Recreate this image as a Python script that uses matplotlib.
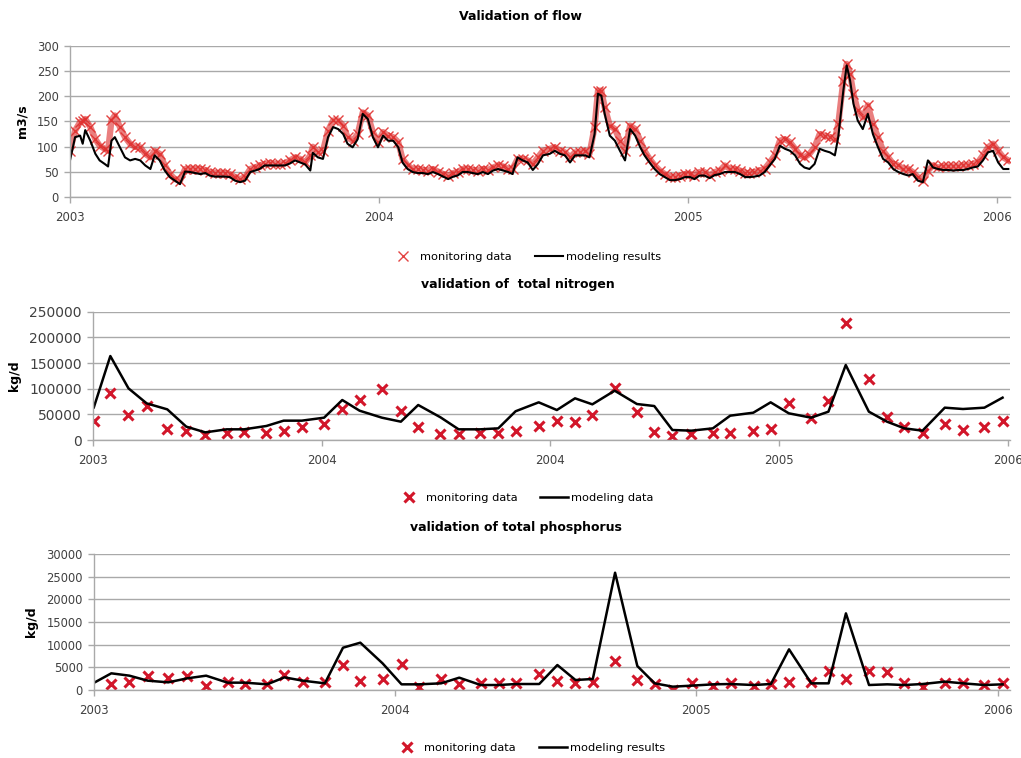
import matplotlib.pyplot as plt
import numpy as np

plt.rcParams['font.family'] = ['DejaVu Sans']

# flow: day from 2003-01-01, monitoring (m3/s), modeling (m3/s)
flow_day = [0, 6, 12, 15, 18, 24, 30, 35, 41, 45, 49, 53, 59, 65, 71, 77, 83, 89, 95, 100,
            106, 112, 118, 124, 130, 136, 142, 148, 154, 160, 165, 171, 177, 183, 189, 195, 201, 207, 213, 219,
            224, 230, 236, 242, 248, 254, 260, 266, 272, 278, 284, 287, 293, 299, 305, 311, 317, 323, 328, 334,
            340, 346, 352, 358, 364, 370, 376, 382, 388, 393, 399, 405, 411, 417, 423, 429, 435, 441, 447, 453,
            458, 464, 470, 476, 482, 488, 494, 500, 506, 512, 518, 523, 529, 535, 541, 547, 553, 559, 567, 573,
            579, 585, 591, 597, 603, 609, 614, 620, 624, 628, 632, 638, 644, 650, 656, 662, 668, 674, 679, 685,
            691, 697, 703, 709, 715, 721, 727, 733, 738, 744, 750, 756, 762, 768, 774, 780, 786, 792, 798, 803,
            809, 815, 821, 827, 833, 839, 845, 851, 857, 863, 868, 874, 880, 886, 892, 898, 904, 908, 914, 918,
            922, 926, 931, 937, 943, 949, 955, 961, 967, 973, 979, 985, 991, 996, 1002, 1008, 1014, 1020, 1026, 1032,
            1038, 1044, 1050, 1056, 1061, 1067, 1073, 1079, 1085, 1091, 1097, 1103, 1109]
flow_obs = [92, 132, 149, 150, 155, 139, 115, 102, 96, 92, 152, 162, 139, 119, 106, 100, 99, 86, 79, 92,
            86, 63, 46, 36, 33, 56, 56, 56, 56, 54, 50, 48, 48, 48, 46, 40, 36, 40, 56, 59,
            63, 66, 67, 66, 66, 67, 73, 79, 76, 69, 83, 100, 89, 92, 132, 152, 152, 142, 119, 112,
            125, 168, 162, 129, 109, 129, 122, 119, 109, 76, 63, 56, 56, 54, 53, 56, 51, 46, 43, 48,
            50, 56, 56, 54, 53, 56, 54, 59, 63, 61, 56, 56, 76, 76, 73, 66, 79, 92, 96, 99,
            92, 89, 79, 89, 89, 92, 86, 139, 211, 211, 178, 142, 135, 112, 92, 142, 135, 112, 92, 76,
            63, 53, 46, 41, 40, 43, 46, 46, 43, 50, 50, 43, 50, 53, 63, 56, 56, 53, 48, 48,
            50, 53, 56, 69, 83, 112, 115, 109, 96, 83, 79, 86, 99, 125, 122, 119, 115, 145, 231, 264,
            244, 205, 172, 158, 182, 145, 119, 92, 79, 66, 63, 56, 56, 50, 40, 33, 53, 63, 59, 61,
            61, 61, 61, 63, 63, 66, 69, 83, 99, 106, 92, 79, 73]
flow_mod = [73, 119, 122, 106, 133, 112, 86, 73, 66, 61, 112, 119, 99, 79, 73, 76, 73, 63, 56, 83,
            73, 53, 40, 33, 26, 51, 50, 48, 46, 48, 43, 41, 41, 41, 40, 33, 30, 33, 50, 53,
            56, 63, 63, 63, 63, 63, 67, 73, 69, 65, 53, 88, 79, 76, 119, 139, 135, 125, 106, 99,
            115, 165, 155, 119, 99, 122, 112, 112, 99, 69, 56, 50, 48, 48, 46, 50, 46, 41, 36, 41,
            43, 50, 50, 48, 46, 50, 46, 53, 56, 53, 50, 46, 79, 73, 69, 54, 66, 83, 86, 92,
            86, 83, 69, 83, 83, 83, 79, 125, 205, 201, 165, 122, 112, 92, 73, 135, 122, 99, 83, 69,
            56, 46, 40, 34, 34, 36, 40, 40, 36, 43, 43, 38, 44, 46, 50, 50, 50, 46, 40, 40,
            41, 43, 50, 63, 76, 102, 96, 92, 83, 66, 59, 56, 66, 96, 92, 89, 83, 119, 211, 261,
            231, 185, 152, 135, 165, 125, 99, 76, 69, 56, 50, 46, 43, 46, 33, 30, 73, 59, 56, 54,
            54, 53, 54, 54, 56, 59, 61, 73, 89, 92, 69, 56, 56]

# sampling days for nitrogen / phosphorus (days from 2003-01-01)
sample_day = [1, 21, 43, 65, 90, 113, 136, 162, 183, 210, 231, 253, 280, 302, 323, 350, 373, 394, 421, 443,
              469, 491, 512, 540, 562, 584, 605, 632, 659, 680, 702, 725, 751, 772, 800, 821, 843, 870, 891, 912,
              940, 962, 983, 1005, 1032, 1054, 1080, 1102]

tn_obs = [37700, 91000, 48700, 66900, 20800, 18200, 9700, 14300, 16200, 13000, 18200, 24700, 31200, 59700,
          77900, 98700, 56500, 24700, 11700, 11000, 14300, 13000, 16900, 27900, 37700, 35700, 48700, 100600,
          55200, 16200, 8400, 11700, 13000, 13000, 18200, 20800, 71400, 43500, 76000, 227300, 118800, 45500,
          26000, 13000, 31200, 19500, 24700, 37700]
tn_mod = [63600, 163600, 100600, 71400, 59700, 26000, 14900, 20800, 20800, 27300, 37700, 37700, 43500, 77900,
          57100, 43500, 35700, 68200, 44200, 20800, 20800, 22700, 56000, 73400, 58400, 81200, 69500, 96100,
          70100, 66200, 19500, 18200, 22700, 47400, 53200, 73400, 52000, 43500, 55200, 146100, 55200, 35700,
          22700, 18200, 63000, 60400, 63000, 82500]

tp_obs = [np.nan, 1300, 1760, 3160, 2720, 3090, 880, 1760, 1320, 1320, 3380, 1840, 1840, 5510, 1910, 2350,
          5660, 590, 2350, 1320, 1620, 1470, 1470, 3450, 1980, 1470, 1840, 6470, 2200, 1320, 0, 1470,
          960, 1470, 960, 1250, 1690, 1840, 4260, 2350, 4260, 3900, 1470, 735, 1470, 1470, 1100, 1470]
tp_mod = [1690, 3680, 3160, 2060, 1690, 2570, 3160, 1620, 1620, 1250, 2790, 2060, 1470, 9330, 10440, 5880,
          1250, 1250, 1470, 2720, 1100, 1100, 1320, 1320, 5510, 2200, 2430, 25870, 5290, 1470, 735, 960,
          1250, 1320, 1100, 1320, 8970, 1470, 1470, 16900, 1100, 1250, 1100, 1320, 1840, 1470, 1100, 1250]

year_days = [0, 365, 730, 1096]
year_labels = ['2003', '2004', '2005', '2006']
tn_tick_days = [0, 277, 554, 831, 1108]
tn_tick_labels = ['2003', '2004', '2004', '2005', '2006']

W, H = 1021, 758
fig = plt.figure(figsize=(W / 100, H / 100), dpi=100)

grid_c = '#a9a9a9'
tick_c = '#404040'
red = '#d2162a'


def make_ax(left, right, top, bottom, ysize):
    ax = fig.add_axes([left / W, 1 - bottom / H, (right - left) / W, (bottom - top) / H])
    for s in ['top', 'right']:
        ax.spines[s].set_visible(False)
    for s in ['left', 'bottom']:
        ax.spines[s].set_color(grid_c)
        ax.spines[s].set_linewidth(1.0)
    ax.yaxis.grid(True, color=grid_c, linewidth=1.0)
    ax.set_axisbelow(True)
    ax.tick_params(axis='both', colors=grid_c, labelcolor=tick_c, length=4, width=1)
    ax.tick_params(axis='x', labelsize=8.5, pad=6)
    ax.tick_params(axis='y', labelsize=ysize, pad=4)
    ax.set_xlim(0, 1111)
    return ax


def add_legend(ax, cx, cy):
    ax.legend(loc='center', bbox_to_anchor=(cx / W, 1 - cy / H), bbox_transform=fig.transFigure,
              ncol=2, frameon=False, fontsize=8.2, handlelength=2.5, columnspacing=2.0,
              handletextpad=0.25)


# flow
ax1 = make_ax(70, 1010, 45.7, 197.3, 8.3)
ax1.plot(flow_day, flow_obs, color='#dc2a2a', linewidth=4.5, alpha=0.6, solid_joinstyle='round')
ax1.plot(flow_day, flow_obs, linestyle='none', marker='x', color='#e0302e', markersize=7,
         markeredgewidth=1.0, alpha=0.9, label='monitoring data')
ax1.plot(flow_day, flow_mod, color='black', linewidth=1.5, label='modeling results')
ax1.set_ylim(0, 300)
ax1.set_yticks(range(0, 301, 50))
ax1.set_xticks(year_days)
ax1.set_xticklabels(year_labels)
ax1.set_ylabel('m3/s', fontweight='bold', fontsize=9, labelpad=6)
add_legend(ax1, 525, 257)
fig.text(520 / W, 1 - 17 / H, 'Validation of flow', ha='center', va='center', fontweight='bold', fontsize=9)

# total nitrogen
ax2 = make_ax(93, 1010, 311.7, 440, 10)
ax2.plot(sample_day, tn_obs, linestyle='none', marker='x', color=red, markersize=7,
         markeredgewidth=2.2, label='monitoring data')
ax2.plot(sample_day, tn_mod, color='black', linewidth=1.8, label='modeling data')
ax2.set_ylim(0, 250000)
ax2.set_yticks(range(0, 250001, 50000))
ax2.set_xticks(tn_tick_days)
ax2.set_xticklabels(tn_tick_labels)
ax2.set_ylabel('kg/d', fontweight='bold', fontsize=9, labelpad=6)
add_legend(ax2, 524, 498)
fig.text(518 / W, 1 - 285 / H, 'validation of  total nitrogen', ha='center', va='center',
         fontweight='bold', fontsize=9)

# total phosphorus
ax3 = make_ax(94, 1010, 554, 690, 8.3)
ax3.plot(sample_day, tp_obs, linestyle='none', marker='x', color=red, markersize=7,
         markeredgewidth=2.2, label='monitoring data')
ax3.plot(sample_day, tp_mod, color='black', linewidth=1.8, label='modeling results')
ax3.set_ylim(0, 30000)
ax3.set_yticks(range(0, 30001, 5000))
ax3.set_xticks(year_days)
ax3.set_xticklabels(year_labels)
ax3.set_ylabel('kg/d', fontweight='bold', fontsize=9, labelpad=6)
add_legend(ax3, 529, 748)
fig.text(516 / W, 1 - 528 / H, 'validation of total phosphorus', ha='center', va='center',
         fontweight='bold', fontsize=9)

fig.savefig('out.png', dpi=100)
